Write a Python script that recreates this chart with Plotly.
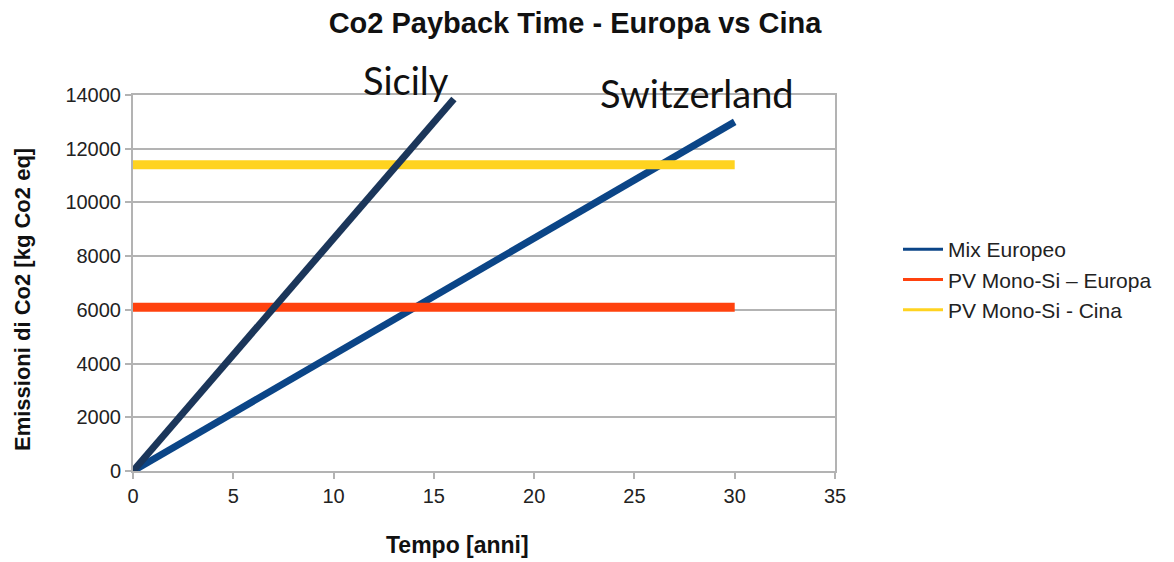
import plotly.graph_objects as go

# Data
years_mix = [0, 30]
mix_europeo = [0, 13000]          # Switzerland line (Mix Europeo)
years_sicily = [0, 16]
sicily = [0, 13850]               # Sicily line
years_pv = [0, 30]
pv_europa = [6100, 6100]
pv_cina = [11400, 11400]

x_ticks = [0, 5, 10, 15, 20, 25, 30, 35]
y_ticks = [0, 2000, 4000, 6000, 8000, 10000, 12000, 14000]
y_tick_labels = [str(v) for v in y_ticks]

series_names = ["Mix Europeo", "PV Mono-Si – Europa", "PV Mono-Si - Cina"]
series_colors = ["#0b4587", "#ff420e", "#ffd320"]

FONT = "Liberation Sans, Arial, sans-serif"
OFF = 8  # page body margin
W, H = 1174 - OFF, 562 - OFF
L, T = 133 - OFF, 95 - OFF
PW, PH = 702, 376
R, B = W - L - PW, H - T - PH

def px_x(px):
    return (px - OFF - L) / PW

def px_y(py):
    return (H - B - (py - OFF)) / PH

fig = go.Figure()
fig.add_trace(go.Scatter(x=years_mix, y=mix_europeo, mode="lines", name=series_names[0],
                         showlegend=False, line=dict(color=series_colors[0], width=7)))
fig.add_trace(go.Scatter(x=years_pv, y=pv_europa, mode="lines", name=series_names[1],
                         showlegend=False, line=dict(color=series_colors[1], width=9)))
fig.add_trace(go.Scatter(x=years_pv, y=pv_cina, mode="lines", name=series_names[2],
                         showlegend=False, line=dict(color=series_colors[2], width=9)))
fig.add_trace(go.Scatter(x=years_sicily, y=sicily, mode="lines", name="Sicily",
                         showlegend=False, line=dict(color="#1b365a", width=7)))
# legend entries (thin sample lines as in the original)
for n, c in zip(series_names, series_colors):
    fig.add_trace(go.Scatter(x=[None], y=[None], mode="lines", name=n,
                             line=dict(color=c, width=3)))

fig.update_layout(
    width=W, height=H,
    paper_bgcolor="white", plot_bgcolor="white",
    margin=dict(l=L, r=R, t=T, b=B),
    font=dict(family=FONT, color="#222222"),
    title=dict(text="<b>Co2 Payback Time - Europa vs Cina</b>", x=(575 - OFF) / W, xref="container",
               y=1 - (23 - OFF) / H, yref="container", xanchor="center", yanchor="middle",
               font=dict(size=29, family=FONT, color="#111111")),
    legend=dict(x=px_x(898), y=px_y(229), xanchor="left", yanchor="top",
                font=dict(size=21, family=FONT, color="#222222"),
                bgcolor="rgba(0,0,0,0)", tracegroupgap=0, itemwidth=40),
    xaxis=dict(range=[0, 35], tickvals=x_ticks, showgrid=False, zeroline=False, automargin=False,
               showline=True, linecolor="#b3b3b3", linewidth=2, mirror=True,
               ticks="outside", ticklen=6, tickcolor="#b3b3b3", tickwidth=2,
               tickfont=dict(size=20, family=FONT, color="#222222")),
    yaxis=dict(range=[0, 14000], tickvals=y_ticks, ticktext=y_tick_labels, automargin=False,
               showgrid=True, gridcolor="#b3b3b3", gridwidth=2,
               zeroline=False, showline=True, linecolor="#b3b3b3", linewidth=2, mirror=True,
               ticks="outside", ticklen=6, tickcolor="#b3b3b3", tickwidth=2,
               tickfont=dict(size=20, family=FONT, color="#222222")),
    annotations=[
        dict(text="<b>Tempo [anni]</b>", x=px_x(457), y=px_y(545), xref="paper", yref="paper",
             showarrow=False, xanchor="center", yanchor="middle",
             font=dict(size=23, family=FONT, color="#111111")),
        dict(text="<b>Emissioni di Co2 [kg Co2 eq]</b>", x=px_x(22), y=px_y(300),
             xref="paper", yref="paper", showarrow=False, textangle=-90,
             xanchor="center", yanchor="middle",
             font=dict(size=22, family=FONT, color="#111111")),
        dict(text="Sicily", x=px_x(406), y=px_y(80), xref="paper", yref="paper", showarrow=False,
             xanchor="center", yanchor="middle",
             font=dict(size=38, family="Lato, sans-serif", color="#111111")),
        dict(text="Switzerland", x=px_x(697), y=px_y(93), xref="paper", yref="paper", showarrow=False,
             xanchor="center", yanchor="middle",
             font=dict(size=38, family="Lato, sans-serif", color="#111111")),
    ],
)

fig.write_html("out.html")
